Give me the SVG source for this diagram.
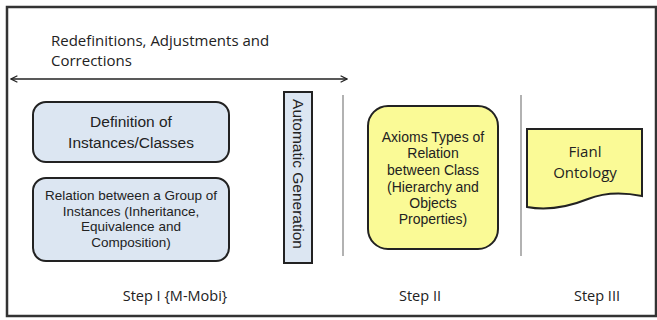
<svg xmlns="http://www.w3.org/2000/svg" width="657" height="320" viewBox="0 0 657 320">
  <style>
    .frame { fill: #fff; stroke: #333; stroke-width: 2.5; }
    .blue { fill: #dce6f2; stroke: #222; stroke-width: 2; }
    .yellow { fill: #fafa96; stroke: #222; stroke-width: 2; }
    .sep { stroke: #999; stroke-width: 1.5; }
    .cal { font-family: "Open Sans", "Liberation Sans", sans-serif; fill: #222; }
    .ar { font-family: "Liberation Sans", Arial, sans-serif; fill: #222; text-anchor: middle; }
  </style>
  <defs>
    <marker id="head" viewBox="0 0 10 10" refX="9" refY="5" markerWidth="8" markerHeight="8" orient="auto-start-reverse" markerUnits="userSpaceOnUse">
      <path d="M1,1 L9,5 L1,9" fill="none" stroke="#222" stroke-width="1.6"/>
    </marker>
  </defs>

  <!-- outer frame -->
  <rect class="frame" x="7" y="7" width="649" height="309"/>

  <!-- top caption -->
  <text class="cal" x="51" y="46" font-size="15">Redefinitions, Adjustments and</text>
  <text class="cal" x="51" y="66" font-size="15">Corrections</text>

  <g id="connectors">
    <line x1="11" y1="79" x2="347" y2="79" stroke="#222" stroke-width="1.5" marker-start="url(#head)" marker-end="url(#head)"/>
    <line class="sep" x1="343" y1="95" x2="343" y2="256"/>
    <line class="sep" x1="521" y1="95" x2="521" y2="256"/>
  </g>

  <g id="definition">
    <rect class="blue" x="33" y="102" width="196" height="60" rx="13"/>
    <text class="ar" x="131" y="127" font-size="15.5">Definition of</text>
    <text class="ar" x="131" y="148" font-size="15.5">Instances/Classes</text>
  </g>

  <g id="relation">
    <rect class="blue" x="33" y="178" width="196" height="83" rx="13"/>
    <text class="ar" x="131" y="200" font-size="13.5">Relation between a Group of</text>
    <text class="ar" x="131" y="215.5" font-size="13.5">Instances (Inheritance,</text>
    <text class="ar" x="131" y="231" font-size="13.5">Equivalence and</text>
    <text class="ar" x="131" y="246.5" font-size="13.5">Composition)</text>
  </g>

  <g id="automatic">
    <rect class="blue" x="284" y="92" width="28" height="171"/>
    <text class="ar" transform="translate(292.5,174) rotate(90)" font-size="15.5">Automatic Generation</text>
  </g>

  <g id="axioms">
    <rect class="yellow" x="368" y="106" width="130" height="143" rx="20"/>
    <text class="ar" x="433" y="142" font-size="14">Axioms Types of</text>
    <text class="ar" x="433" y="158" font-size="14">Relation</text>
    <text class="ar" x="433" y="175" font-size="14">between Class</text>
    <text class="ar" x="433" y="192" font-size="14">(Hierarchy and</text>
    <text class="ar" x="433" y="208" font-size="14">Objects</text>
    <text class="ar" x="433" y="224" font-size="14">Properties)</text>
  </g>

  <g id="ontology">
    <path class="yellow" d="M527,129 L642,129 L642,196 C622,192 603,193 588,199 C568,207 548,211 527,207 Z"/>
    <text class="cal" x="585" y="157" font-size="15" text-anchor="middle">Fianl</text>
    <text class="cal" x="585" y="178" font-size="15" text-anchor="middle">Ontology</text>
  </g>

  <!-- step labels -->
  <text class="cal" x="175" y="301" font-size="14.5" text-anchor="middle">Step I {M-Mobi}</text>
  <text class="cal" x="420" y="301" font-size="14.5" text-anchor="middle">Step II</text>
  <text class="cal" x="597" y="301" font-size="14.5" text-anchor="middle">Step III</text>
</svg>
